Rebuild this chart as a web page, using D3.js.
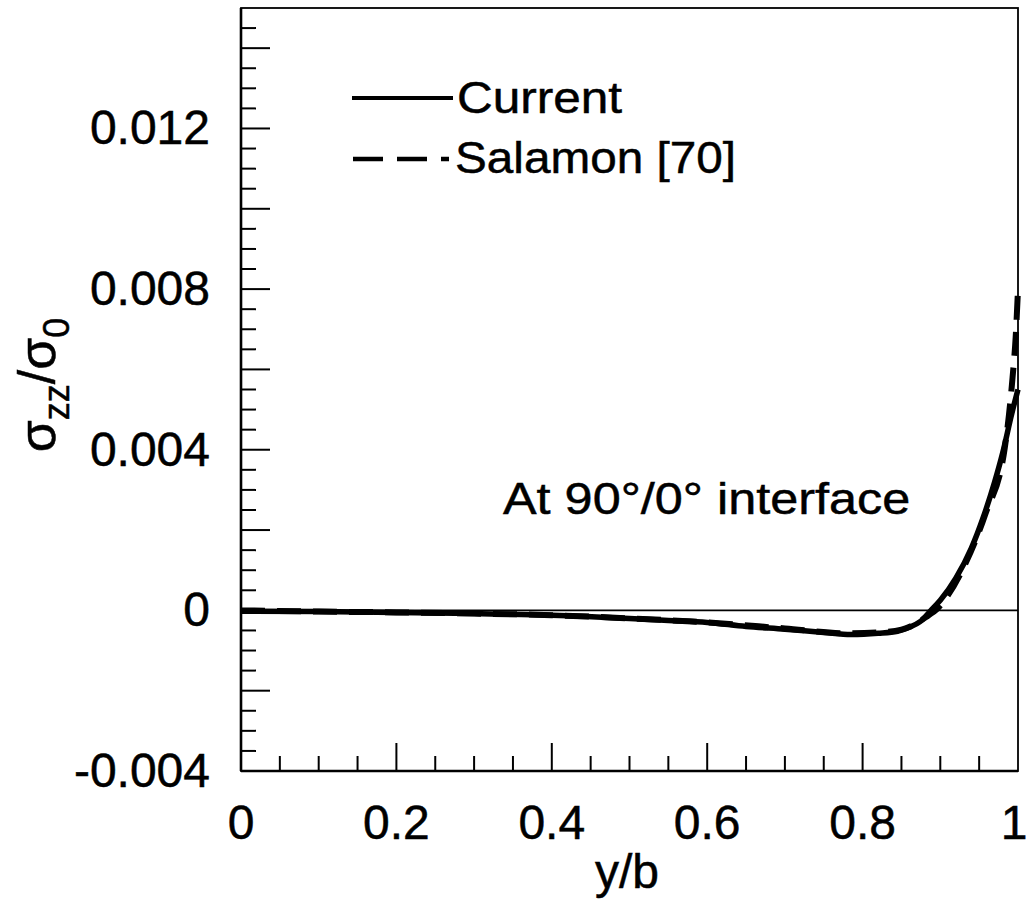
<!DOCTYPE html>
<html><head><meta charset="utf-8">
<script src="https://cdn.jsdelivr.net/npm/d3@7"></script>
<style>body{margin:0;background:#fff}svg{display:block}text{font-family:"Liberation Sans",Arial,Helvetica,sans-serif;fill:#000;stroke:#000;stroke-width:0.5}</style>
</head><body>
<script>
// Data (x = y/b, value = sigma_zz/sigma_0)
const currentX = [0,0.1,0.2,0.3,0.4,0.5,0.55,0.6,0.65,0.7,0.75,0.785,0.82,0.845,0.86,0.874,0.888,0.9,0.92,0.94,0.955,0.97,0.98,0.992,1.0];
const currentY = [-0.00002,-0.00003,-0.00005,-0.00008,-0.00012,-0.0002,-0.00025,-0.0003,-0.0004,-0.00047,-0.00055,-0.0006,-0.00057,-0.00052,-0.00042,-0.00028,0,0.00025,0.0008,0.00155,0.0023,0.0032,0.0039,0.0049,0.0055];
const salamonX = [0,0.1,0.2,0.3,0.4,0.5,0.6,0.7,0.78,0.82,0.85,0.87,0.885,0.895,0.904,0.932,0.958,0.983,0.993,0.997,1.0];
const salamonY = [0,-0.00003,-0.00005,-0.00008,-0.00012,-0.0002,-0.0003,-0.00045,-0.00057,-0.00055,-0.00048,-0.00032,-0.00012,0.00002,0.00022,0.00115,0.0024,0.00405,0.0058,0.0068,0.008];
const xTickLabels = ["0","0.2","0.4","0.6","0.8","1"];
const yTickLabels = ["-0.004","0","0.004","0.008","0.012"];
const legendLabels = ["Current","Salamon [70]"];
const annotation = "At 90°/0° interface";

const W = 1026, H = 909;
const L = 241, R = 1018, T = 8, B = 771;
const svg = d3.select("body").append("svg").attr("width", W).attr("height", H);
const x = d3.scaleLinear().domain([0, 1]).range([L, R]);
const y = d3.scaleLinear().domain([-0.004, 0.015]).range([B, T]);

// ticks
const xMinor = d3.range(0, 1.0001, 0.05).filter(v => v > 0.001 && v < 0.999);
const yMinor = d3.range(-0.004, 0.01500001, 0.0005).map(v => +v.toFixed(5)).filter(v => v > -0.0039 && v < 0.0149);
const isMajorX = v => Math.abs(v / 0.2 - Math.round(v / 0.2)) < 1e-6;
const isMajorY = v => Math.abs(v / 0.002 - Math.round(v / 0.002)) < 1e-6;

const g = svg.append("g");
g.selectAll(".xt").data(xMinor).enter().append("line")
  .attr("x1", d => x(d)).attr("x2", d => x(d))
  .attr("y1", B).attr("y2", d => B - (isMajorX(d) ? 28 : 15))
  .attr("stroke", "#000").attr("stroke-width", 2);
g.selectAll(".yt").data(yMinor).enter().append("line")
  .attr("y1", d => y(d)).attr("y2", d => y(d))
  .attr("x1", L).attr("x2", d => L + (isMajorY(d) ? 29 : 15))
  .attr("stroke", "#000").attr("stroke-width", 2);

// zero line
g.append("line").attr("x1", L).attr("x2", R).attr("y1", y(0)).attr("y2", y(0))
  .attr("stroke", "#000").attr("stroke-width", 1.6);

// frame
g.append("rect").attr("x", L).attr("y", T).attr("width", R - L).attr("height", B - T)
  .attr("fill", "none").attr("stroke", "#000").attr("stroke-width", 1.8);
g.append("line").attr("x1", L).attr("x2", L).attr("y1", T).attr("y2", B).attr("stroke", "#000").attr("stroke-width", 2.6);
g.append("line").attr("x1", L).attr("x2", R).attr("y1", B).attr("y2", B).attr("stroke", "#000").attr("stroke-width", 2.6);

// tick labels
const xTickVals = xTickLabels.map(Number);
svg.selectAll(".xl").data(xTickLabels).enter().append("text")
  .attr("x", (d, i) => Math.min(x(xTickVals[i]), W - 12)).attr("y", 839)
  .attr("text-anchor", "middle").attr("font-size", 48).text(d => d);
const yTickVals = yTickLabels.map(Number);
svg.selectAll(".yl").data(yTickLabels).enter().append("text")
  .attr("x", 210).attr("y", (d, i) => y(yTickVals[i]) + 16)
  .attr("text-anchor", "end").attr("font-size", 48).text(d => d);

// axis titles
svg.append("text").attr("x", 627).attr("y", 888).attr("text-anchor", "middle")
  .attr("font-size", 48).text("y/b");
const yl = svg.append("text").attr("transform", "translate(55,385) rotate(-90)")
  .attr("text-anchor", "middle").attr("font-size", 52);
yl.append("tspan").text("σ");
yl.append("tspan").attr("font-size", 36).attr("dy", 14).text("zz");
yl.append("tspan").attr("dy", -14).text("/σ");
yl.append("tspan").attr("font-size", 36).attr("dy", 14).text("0");

// curves
const line = d3.line().x(d => x(d[0])).y(d => y(d[1])).curve(d3.curveMonotoneX);
const cur = currentX.map((v, i) => [v, currentY[i]]);
const sal = salamonX.map((v, i) => [v, salamonY[i]]);
svg.append("clipPath").attr("id", "clip").append("rect")
  .attr("x", L).attr("y", T).attr("width", R - L + 3).attr("height", B - T);
svg.append("path").attr("d", line(sal)).attr("fill", "none").attr("stroke", "#000")
  .attr("stroke-width", 6).attr("stroke-dasharray", "24,12").attr("clip-path", "url(#clip)");
svg.append("path").attr("d", line(cur)).attr("fill", "none").attr("stroke", "#000")
  .attr("stroke-width", 5.5).attr("clip-path", "url(#clip)");

// legend
const lg = svg.append("g");
lg.append("line").attr("x1", 352).attr("x2", 453).attr("y1", 98).attr("y2", 98)
  .attr("stroke", "#000").attr("stroke-width", 4);
lg.append("line").attr("x1", 353).attr("x2", 449).attr("y1", 159).attr("y2", 159)
  .attr("stroke", "#000").attr("stroke-width", 4.5).attr("stroke-dasharray", "30,14");
lg.append("text").attr("transform", "translate(457,113) scale(1.1,1)").attr("font-size", 45).text(legendLabels[0]);
lg.append("text").attr("transform", "translate(455,173) scale(1.06,1)").attr("font-size", 45).text(legendLabels[1]);

svg.append("text").attr("transform", "translate(503,514) scale(1.12,1)").attr("font-size", 45).text(annotation);
</script>
</body></html>
